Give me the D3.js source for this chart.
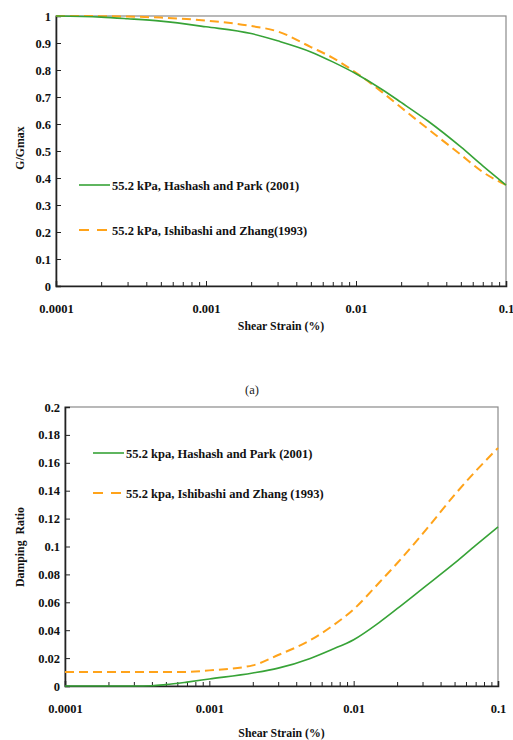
<!DOCTYPE html>
<html><head><meta charset="utf-8">
<script src="https://cdn.jsdelivr.net/npm/d3@7"></script>
<style>body{margin:0;background:#fff}svg{display:block}</style>
</head><body>
<svg id="c" width="513" height="740"></svg>
<script>
// ---- data ----
const strainG = [0.0001,0.0002,0.0003,0.0005,0.001,0.002,0.003,0.005,0.007,0.01,0.015,0.02,0.03,0.05,0.07,0.1];
const gHashash = [1.0,0.996,0.99,0.981,0.96,0.935,0.908,0.867,0.83,0.786,0.727,0.68,0.612,0.515,0.445,0.374];
const gIshibashi = [1.0,0.9995,0.998,0.994,0.983,0.963,0.943,0.885,0.845,0.79,0.717,0.661,0.583,0.486,0.422,0.374];
const strainD = [0.0001,0.0002,0.0003,0.0004,0.0005,0.0007,0.001,0.002,0.003,0.005,0.007,0.01,0.015,0.02,0.03,0.05,0.07,0.1];
const dHashash = [0,0,0,0.0002,0.001,0.0028,0.005,0.0093,0.0128,0.0198,0.026,0.0332,0.0455,0.0554,0.0698,0.088,0.1008,0.114];
const dIshibashi = [0.01,0.01,0.01,0.01,0.01,0.0101,0.0112,0.0148,0.0222,0.0328,0.0425,0.055,0.074,0.088,0.109,0.137,0.154,0.1706];
const xTicks = [0.0001,0.001,0.01,0.1];
const xTickLabels = ["0.0001","0.001","0.01","0.1"];
const gTicks = [0,0.1,0.2,0.3,0.4,0.5,0.6,0.7,0.8,0.9,1];
const dTicks = [0,0.02,0.04,0.06,0.08,0.1,0.12,0.14,0.16,0.18,0.2];
const legendTop = ["55.2 kPa, Hashash and Park (2001)","55.2 kPa, Ishibashi and Zhang(1993)"];
const legendBottom = ["55.2 kpa, Hashash and Park (2001)","55.2 kpa, Ishibashi and Zhang (1993)"];

const GREEN = "#37a337", ORANGE = "#ffa31a";
const FONT = "'Liberation Serif','Times New Roman',serif";
const svg = d3.select("#c");

const minorTicks = [];
for (let e=-4;e<-1;e++) for (let k=2;k<=9;k++) minorTicks.push(k*Math.pow(10,e));

function panel(o){
  const g = svg.append("g");
  const x = d3.scaleLog().domain([0.0001,0.1]).range([o.l,o.r]);
  const y = d3.scaleLinear().domain([0,o.ymax]).range([o.b,o.t]);
  // frame
  g.append("rect").attr("x",o.l).attr("y",o.t).attr("width",o.r-o.l).attr("height",o.b-o.t)
    .attr("fill","none").attr("stroke","#8a8a8a").attr("stroke-width",1.2);
  // y axis
  const ya = d3.axisLeft(y).tickValues(o.yticks).tickSize(-5).tickPadding(5)
    .tickFormat(d=>String(+d.toFixed(2)));
  const yg = g.append("g").attr("transform",`translate(${o.l},0)`).call(ya);
  // x axis
  const xa = d3.axisBottom(x).tickValues(xTicks).tickSize(-5).tickPadding(18)
    .tickFormat((d,i)=>xTickLabels[i]);
  const xg = g.append("g").attr("transform",`translate(0,${o.b})`).call(xa);
  const xm = d3.axisBottom(x).tickValues(minorTicks).tickSize(-4).tickFormat("");
  const xmg = g.append("g").attr("transform",`translate(0,${o.b})`).call(xm);
  xmg.select(".domain").remove();
  [yg,xg,xmg].forEach(a=>{
    a.selectAll(".domain").attr("stroke","#222").attr("stroke-width",1.6);
    a.selectAll(".tick line").attr("stroke","#222").attr("stroke-width",1);
    a.selectAll("text").attr("font-family",FONT).attr("font-weight","bold")
      .attr("font-size",12.5).attr("fill","#111");
  });
  // lines
  const line = (xs)=>d3.line().x((d,i)=>x(xs[i])).y(d=>y(d)).curve(d3.curveMonotoneX);
  g.append("path").datum(o.s2).attr("d",line(o.xs)).attr("fill","none")
    .attr("stroke",ORANGE).attr("stroke-width",2).attr("stroke-dasharray","9,5");
  g.append("path").datum(o.s1).attr("d",line(o.xs)).attr("fill","none")
    .attr("stroke",GREEN).attr("stroke-width",1.6);
  // legend
  const L = o.leg;
  g.append("line").attr("x1",L.x).attr("x2",L.x+31).attr("y1",L.y1).attr("y2",L.y1)
    .attr("stroke",GREEN).attr("stroke-width",1.6);
  g.append("line").attr("x1",L.x).attr("x2",L.x+31).attr("y1",L.y2).attr("y2",L.y2)
    .attr("stroke",ORANGE).attr("stroke-width",2).attr("stroke-dasharray","10,8");
  [[L.y1,o.labels[0]],[L.y2,o.labels[1]]].forEach(([yy,t])=>{
    g.append("text").attr("x",L.x+33).attr("y",yy+4.5).text(t)
      .attr("font-family",FONT).attr("font-weight","bold").attr("font-size",12.5).attr("fill","#111");
  });
  // axis titles
  g.append("text").attr("x",(o.l+o.r)/2).attr("y",o.xt).attr("text-anchor","middle")
    .attr("font-family",FONT).attr("font-weight","bold").attr("font-size",11.8).attr("fill","#111")
    .text("Shear Strain (%)");
  g.append("text").attr("transform",`translate(${o.yx},${o.yy}) rotate(-90)`).attr("text-anchor","middle")
    .attr("font-family",FONT).attr("font-weight","bold").attr("font-size",11.8).attr("fill","#111")
    .attr("xml:space","preserve").text(o.ytitle);
}

panel({l:56,r:506,t:16,b:286,ymax:1,yticks:gTicks,xs:strainG,s1:gHashash,s2:gIshibashi,
  leg:{x:79,y1:185,y2:230},labels:legendTop,xt:330,yx:24,yy:148,ytitle:"G/Gmax"});
panel({l:65,r:498,t:407,b:686,ymax:0.2,yticks:dTicks,xs:strainD,s1:dHashash,s2:dIshibashi,
  leg:{x:93,y1:453,y2:493},labels:legendBottom,xt:737,yx:24,yy:547,ytitle:"Damping  Ratio"});

svg.append("text").attr("x",252).attr("y",394).attr("text-anchor","middle")
  .attr("font-family",FONT).attr("font-size",12.5).attr("fill","#222").text("(a)");
</script>
</body></html>
